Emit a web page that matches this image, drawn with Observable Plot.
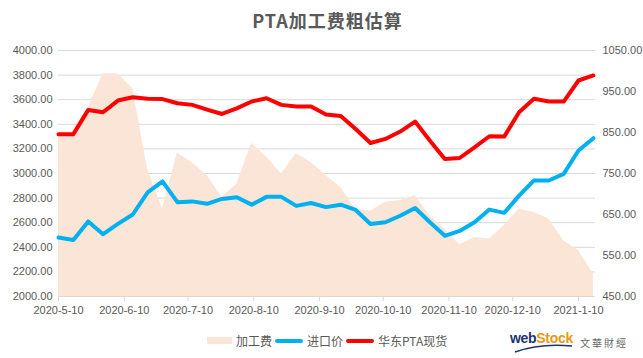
<!DOCTYPE html>
<html>
<head>
<meta charset="utf-8">
<script src="https://cdn.jsdelivr.net/npm/d3@7"></script>
<script src="https://cdn.jsdelivr.net/npm/@observablehq/plot@0.6"></script>
<style>
  body { margin: 0; background: #fff; font-family: "Liberation Sans", "Noto Sans CJK SC", sans-serif; }
  #wrap { width: 643px; height: 358px; overflow: hidden; background: #fff; }
  #title { height: 40px; line-height: 40px; text-align: center; padding-left: 12px; box-sizing: border-box; font-family: "Noto Sans CJK SC", sans-serif; font-size: 18px; font-weight: bold; color: #595959; letter-spacing: 1px; }
  #chart { height: 290px; }
  #bottom { position: relative; height: 28px; }
  #legend { position: absolute; left: 207px; top: 2px; display: flex; align-items: center; font-family: "Noto Sans CJK SC", sans-serif; font-size: 12px; color: #595959; }
  #legend .sw { display: inline-block; margin-right: 4px; }
  #legend .lab { margin-right: 3px; }
  #logo { position: absolute; left: 510px; top: 0px; width: 125px; height: 26px; }
  #logo .w { position: absolute; left: 0; top: 0; font-family: "Liberation Sans", sans-serif; font-weight: bold; font-size: 14px; letter-spacing: -0.3px; }
  #logo .cn { position: absolute; left: 70px; top: 5px; font-family: "Noto Sans CJK TC", sans-serif; font-size: 10px; color: #666; letter-spacing: 2px; }
</style>
</head>
<body>
<div id="wrap">
  <div id="title">PTA加工费粗估算</div>
  <div id="chart"></div>
  <div id="bottom">
    <div id="legend"></div>
    <div id="logo">
      <span class="w"><span style="color:#1d3470">web</span><span style="color:#e89a12">Stock</span></span>
      <span class="cn">文華財經</span>
      <svg width="70" height="26" style="position:absolute;left:0;top:0"><path d="M5 22 Q30 13 62 16" fill="none" stroke="#1d3470" stroke-width="1.5"/></svg>
    </div>
  </div>
</div>
<script>
// ---- data (weekly) ----
const dates = [
  "2020-05-10","2020-05-17","2020-05-24","2020-05-31","2020-06-07","2020-06-14","2020-06-21","2020-06-28",
  "2020-07-05","2020-07-12","2020-07-19","2020-07-26","2020-08-02","2020-08-09","2020-08-16","2020-08-23",
  "2020-08-30","2020-09-06","2020-09-13","2020-09-20","2020-09-27","2020-10-04","2020-10-11","2020-10-18",
  "2020-10-25","2020-11-01","2020-11-08","2020-11-15","2020-11-22","2020-11-29","2020-12-06","2020-12-13",
  "2020-12-20","2020-12-27","2021-01-03","2021-01-10","2021-01-17"
];
// 加工费 (right axis)
const fee = [845,842,910,993,993,957,759,664,800,776,745,692,724,824,790,749,798,777,745,716,663,658,680,684,696,647,614,576,594,590,623,663,655,639,586,562,505];
// 进口价 (right axis)
const importPrice = [594,588,633,602,627,650,704,731,680,682,676,688,692,674,693,693,671,678,668,674,661,627,631,647,666,631,598,610,631,662,654,696,733,733,749,806,836];
// 华东PTA现货 (left axis)
const spotPrice = [3320,3320,3517,3498,3593,3620,3607,3605,3571,3558,3520,3484,3530,3585,3612,3558,3544,3544,3480,3468,3362,3248,3281,3341,3422,3267,3118,3126,3213,3303,3300,3498,3607,3585,3585,3756,3797];

const leftTicks = [2000,2200,2400,2600,2800,3000,3200,3400,3600,3800,4000];
const rightTicks = [450,550,650,750,850,950,1050];
const xTickLabels = ["2020-5-10","2020-6-10","2020-7-10","2020-8-10","2020-9-10","2020-10-10","2020-11-10","2020-12-10","2021-1-10"];

const seriesNames = ["加工费","进口价","华东PTA现货"];
const seriesColors = ["#FBE5D6","#00B0F0","#FF0000"];

// ---- dual-axis mapping ----
const L0 = 2000, L1 = 4000, R0 = 450, R1 = 1050;
const toLeft = v => L0 + (v - R0) * (L1 - L0) / (R1 - R0);
const toRight = v => R0 + (v - L0) * (R1 - R0) / (L1 - L0);
const parseDate = s => { const [y,m,d] = s.split("-").map(Number); return new Date(Date.UTC(y, m-1, d)); };

const data = dates.map((d, i) => ({
  date: parseDate(d),
  fee: toLeft(fee[i]),
  imp: toLeft(importPrice[i]),
  spot: spotPrice[i]
}));
const xTicks = xTickLabels.map(parseDate);
const fmtDate = d => `${d.getUTCFullYear()}-${d.getUTCMonth()+1}-${d.getUTCDate()}`;

const chart = Plot.plot({
  width: 643,
  height: 290,
  marginTop: 10,
  marginBottom: 34,
  marginLeft: 58,
  marginRight: 48,
  style: { fontFamily: "'Liberation Sans','Noto Sans CJK SC',sans-serif", fontSize: "11px", color: "#595959", background: "#fff" },
  x: { type: "utc", domain: [parseDate("2020-05-10"), parseDate("2021-01-18")] },
  y: { domain: [L0, L1] },
  marks: [
    Plot.gridY(leftTicks, { stroke: "#d9d9d9", strokeOpacity: 1 }),
    Plot.areaY(data, { x: "date", y1: L0, y2: "fee", fill: seriesColors[0] }),
    Plot.ruleY([L0], { stroke: "#d9d9d9", strokeWidth: 1 }),
    Plot.axisX(xTicks, { tickFormat: fmtDate, tickSize: 5, tickPadding: 5, stroke: "#d9d9d9", fill: "#595959", label: null }),
    Plot.axisY(leftTicks, { anchor: "left", tickSize: 0, tickPadding: 6, tickFormat: d => d.toFixed(2), label: null }),
    Plot.axisY(rightTicks.map(toLeft), { anchor: "right", tickSize: 0, tickPadding: 7, tickFormat: d => toRight(d).toFixed(2), label: null }),
    Plot.line(data, { x: "date", y: "imp", stroke: seriesColors[1], strokeWidth: 4 }),
    Plot.line(data, { x: "date", y: "spot", stroke: seriesColors[2], strokeWidth: 4 })
  ]
});
document.getElementById("chart").appendChild(chart);

// ---- legend ----
const legend = document.getElementById("legend");
seriesNames.forEach((name, i) => {
  const sw = document.createElement("span");
  sw.className = "sw";
  if (i === 0) { sw.style.width = "25px"; sw.style.height = "7px"; }
  else { sw.style.width = "28px"; sw.style.height = "4px"; sw.style.borderRadius = "2px"; }
  sw.style.background = seriesColors[i];
  const lab = document.createElement("span");
  lab.className = "lab";
  lab.textContent = name;
  legend.appendChild(sw);
  legend.appendChild(lab);
});
</script>
</body>
</html>
